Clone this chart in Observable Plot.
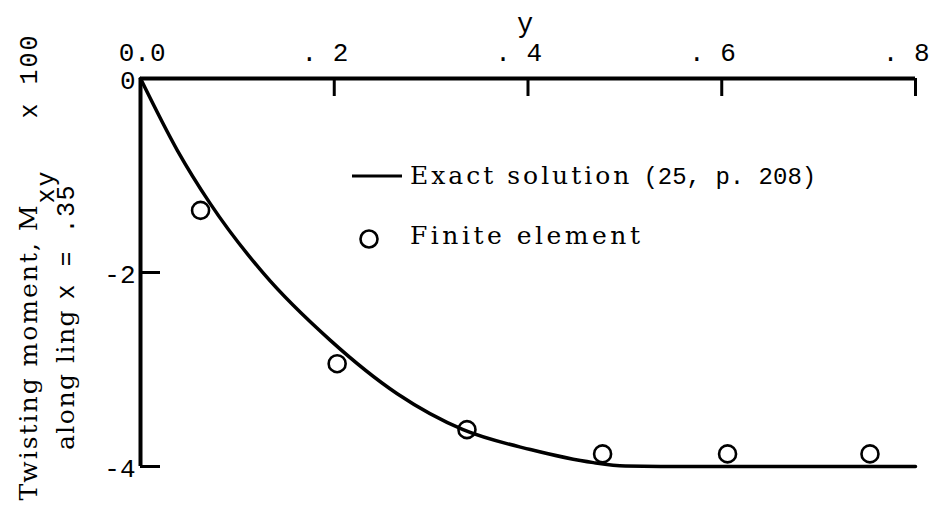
<!DOCTYPE html>
<html>
<head>
<meta charset="utf-8">
<script src="https://cdn.jsdelivr.net/npm/d3@7"></script>
<script src="https://cdn.jsdelivr.net/npm/@observablehq/plot@0.6"></script>
<style>
  html, body { margin: 0; padding: 0; background: #fff; }
  #chart svg { display: block; }
</style>
</head>
<body>
<div id="chart"></div>
<script>
// Axis ticks and their printed labels
const xTicks = [0, 0.2, 0.4, 0.6, 0.8];
const xTickLabels = ["0.0", ". 2", ". 4", ". 6", ". 8"];
const yTicks = [0, -2, -4];
const yTickLabels = ["0", "-2", "-4"];

// Exact solution: twisting moment (x 100) along y
const exactY = [0, 0.038, 0.072, 0.127, 0.196, 0.265, 0.333, 0.4025, 0.4675, 0.5005, 0.537, 0.8];
const exactM = [0, -0.74, -1.29, -2.01, -2.70, -3.25, -3.62, -3.825, -3.96, -3.995, -4.0, -4.0];

// Finite element results
const feY = [0.062, 0.203, 0.337, 0.477, 0.606, 0.753];
const feM = [-1.36, -2.94, -3.62, -3.87, -3.87, -3.87];

const W = 929, H = 519;
const mL = 140, mR = 14, mT = 78, mB = 53;
const frameW = W - mL - mR, frameH = H - mT - mB;

const mono = "Liberation Mono, DejaVu Sans Mono, monospace";
const serif = "DejaVu Serif, Liberation Serif, serif";

const exact = exactY.map((y, i) => ({y, m: exactM[i]}));
const fe = feY.map((y, i) => ({y, m: feM[i]}));
const xLab = xTicks.map((x, i) => ({x, label: xTickLabels[i], first: i === 0}));

const xLabelStyle = {y: 0, text: "label", dy: -26, textAnchor: "end", fontFamily: mono, fontSize: 26, fill: "#000"};

const chart = Plot.plot({
  width: W,
  height: H,
  marginLeft: mL,
  marginRight: mR,
  marginTop: mT,
  marginBottom: mB,
  x: {domain: [0, 0.8], axis: null},
  y: {domain: [-4, 0], axis: null},
  style: {background: "#fff", color: "#000"},
  marks: [
    // axis lines along the top and the left
    Plot.ruleY([0], {stroke: "#000", strokeWidth: 4}),
    Plot.ruleX([0], {stroke: "#000", strokeWidth: 4}),
    // inward ticks
    Plot.tickX(xTicks, {x: d => d, stroke: "#000", strokeWidth: 3, insetBottom: frameH - 18}),
    Plot.tickY(yTicks, {y: d => d, stroke: "#000", strokeWidth: 3, insetRight: frameW - 20}),
    // tick labels (the last digit sits just right of its tick)
    Plot.text(xLab, {...xLabelStyle, x: "x", filter: d => d.first, dx: 25}),
    Plot.text(xLab, {...xLabelStyle, x: "x", filter: d => !d.first, dx: 14}),
    Plot.text(yTicks, {x: 0, y: d => d, text: (d, i) => yTickLabels[i], dx: -5, dy: 2, textAnchor: "end", fontFamily: mono, fontSize: 26, fill: "#000"}),
    // exact solution curve
    Plot.line(exact, {x: "y", y: "m", curve: "monotone-x", stroke: "#000", strokeWidth: 3.5}),
    // finite element points
    Plot.dot(fe, {x: "y", y: "m", r: 8.5, stroke: "#000", strokeWidth: 2.6, fill: "none"})
  ]
});

document.getElementById("chart").appendChild(chart);

const svg = d3.select(chart);

// x axis name
svg.append("text")
  .attr("x", 525).attr("y", 32)
  .attr("text-anchor", "middle")
  .attr("font-family", mono).attr("font-size", 27).attr("fill", "#000")
  .text("y");

// y axis name, two rotated lines
const t1 = svg.append("text")
  .attr("transform", "translate(37,267) rotate(-90)")
  .attr("text-anchor", "middle")
  .attr("font-family", serif).attr("font-size", 25).attr("letter-spacing", 2).attr("fill", "#000");
t1.append("tspan").text("Twisting moment, M");
t1.append("tspan").attr("font-family", mono).attr("dy", 17).attr("font-size", 25).text("xy");
t1.append("tspan").attr("font-family", mono).attr("dy", -17).text("\u00a0\u00a0\u00a0x 100");

const t2 = svg.append("text")
  .attr("transform", "translate(74,317) rotate(-90)")
  .attr("text-anchor", "middle")
  .attr("font-family", serif).attr("font-size", 25).attr("letter-spacing", 1.5).attr("fill", "#000");
t2.append("tspan").text("along ling ");
t2.append("tspan").attr("font-family", mono).text("x = .35");

// legend
const lg = svg.append("g").attr("text-anchor", "start");
lg.append("line").attr("x1", 352).attr("x2", 402).attr("y1", 176).attr("y2", 176)
  .attr("stroke", "#000").attr("stroke-width", 3);
const lt1 = lg.append("text").attr("x", 410).attr("y", 184)
  .attr("text-anchor", "start")
  .attr("font-family", serif).attr("font-size", 25).attr("letter-spacing", 3).attr("fill", "#000");
lt1.append("tspan").text("Exact solution ");
lt1.append("tspan").attr("font-family", mono).attr("font-size", 24).attr("letter-spacing", 0).text("(25, p. 208)");
lg.append("circle").attr("cx", 369).attr("cy", 239).attr("r", 8.5)
  .attr("fill", "none").attr("stroke", "#000").attr("stroke-width", 2.6);
lg.append("text").attr("x", 410).attr("y", 244)
  .attr("text-anchor", "start")
  .attr("font-family", serif).attr("font-size", 25).attr("letter-spacing", 3.5).attr("fill", "#000")
  .text("Finite element");
</script>
</body>
</html>
